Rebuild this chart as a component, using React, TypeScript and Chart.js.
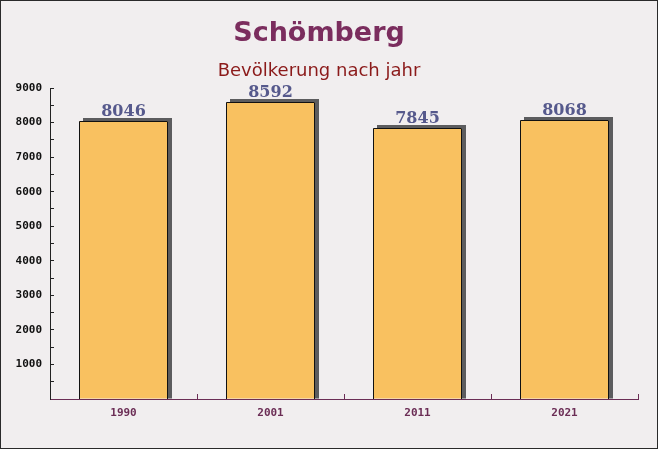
import { useEffect, useRef } from 'react';
import { Chart, registerables } from 'chart.js';

Chart.register(...registerables);

const years: string[] = ['1990', '2001', '2011', '2021'];
const population: number[] = [8046, 8592, 7845, 8068];
const yMin = 0;
const yMax = 9000;
const yStep = 500;
const yLabelStep = 1000;
const titleText = 'Schömberg';
const subtitleText = 'Bevölkerung nach jahr';

const W = 658;
const H = 449;

const backgroundPlugin = {
  id: 'bgPlugin',
  beforeDraw(chart: any) {
    const ctx = chart.ctx;
    ctx.save();
    ctx.fillStyle = '#f1eeef';
    ctx.fillRect(0, 0, chart.width, chart.height);
    ctx.restore();
  },
};

const barShadowPlugin = {
  id: 'barShadow',
  beforeDatasetsDraw(chart: any) {
    const ctx = chart.ctx;
    const meta = chart.getDatasetMeta(0);
    ctx.save();
    ctx.fillStyle = '#5c5c5e';
    meta.data.forEach((el: any) => {
      const p = el.getProps(['x', 'y', 'base', 'width'], true);
      const left = Math.round(p.x - p.width / 2);
      const right = Math.round(p.x + p.width / 2);
      const top = Math.round(p.y);
      ctx.fillRect(left + 4, top - 3, right - left, 3);
      ctx.fillRect(right, top - 3, 4, p.base - top + 3);
    });
    ctx.restore();
  },
  afterDatasetsDraw(chart: any) {
    const ctx = chart.ctx;
    const meta = chart.getDatasetMeta(0);
    ctx.save();
    ctx.strokeStyle = '#111111';
    ctx.lineWidth = 1;
    meta.data.forEach((el: any) => {
      const p = el.getProps(['x', 'y', 'base', 'width'], true);
      const left = Math.round(p.x - p.width / 2) + 0.5;
      const right = Math.round(p.x + p.width / 2) - 0.5;
      const top = Math.round(p.y) + 0.5;
      const bottom = Math.round(p.base);
      ctx.beginPath();
      ctx.moveTo(left, bottom);
      ctx.lineTo(left, top);
      ctx.lineTo(right, top);
      ctx.lineTo(right, bottom);
      ctx.stroke();
    });
    ctx.restore();
  },
};

const valueLabelPlugin = {
  id: 'valueLabels',
  afterDatasetsDraw(chart: any) {
    const ctx = chart.ctx;
    const meta = chart.getDatasetMeta(0);
    const data = chart.data.datasets[0].data as number[];
    ctx.save();
    ctx.font = 'bold 16px "DejaVu Serif"';
    ctx.fillStyle = '#56598c';
    ctx.textAlign = 'center';
    ctx.textBaseline = 'alphabetic';
    meta.data.forEach((el: any, i: number) => {
      const p = el.getProps(['x', 'y'], true);
      ctx.fillText(String(data[i]), p.x, p.y - 5);
    });
    ctx.restore();
  },
};

const framePlugin = {
  id: 'frame',
  afterDraw(chart: any) {
    const ctx = chart.ctx;
    ctx.save();
    ctx.strokeStyle = '#2a2a2a';
    ctx.lineWidth = 1;
    ctx.strokeRect(0.5, 0.5, 657, 448);
    ctx.restore();
  },
};

export default function App() {
  const canvasRef = useRef<HTMLCanvasElement | null>(null);

  useEffect(() => {
    document.body.style.margin = '0';
    const canvas = canvasRef.current;
    if (!canvas) return;
    const chart = new Chart(canvas, {
      type: 'bar',
      data: {
        labels: years,
        datasets: [
          {
            data: population,
            backgroundColor: 'rgba(250, 185, 70, 0.85)',
            borderWidth: 0,
            categoryPercentage: 1,
            barPercentage: 0.6,
          },
        ],
      },
      options: {
        responsive: false,
        animation: false,
        devicePixelRatio: 1,
        layout: { padding: { left: 0, right: 20, top: 0, bottom: 0 } },
        plugins: {
          legend: { display: false },
          tooltip: { enabled: false },
          title: {
            display: true,
            text: titleText,
            color: '#7b2d5e',
            font: { family: 'DejaVu Sans', size: 27, weight: 'bold' },
            padding: { top: 18, bottom: 9.8 },
          },
          subtitle: {
            display: true,
            text: subtitleText,
            color: '#8b1a1a',
            font: { family: 'DejaVu Sans', size: 18, weight: 'normal' },
            padding: { top: 0, bottom: 6.2 },
          },
        },
        scales: {
          x: {
            grid: {
              display: true,
              drawOnChartArea: false,
              drawTicks: true,
              tickLength: -5,
              color: '#6b2d55',
              offset: true,
            },
            border: { display: true, color: '#6b2d55', width: 1 },
            ticks: {
              color: '#6b2d55',
              font: { family: 'DejaVu Sans Mono', size: 11, weight: 'bold' },
              padding: 13,
            },
            afterFit: (s: any) => {
              s.height = 50;
            },
          },
          y: {
            min: yMin,
            max: yMax,
            grid: {
              display: true,
              drawOnChartArea: false,
              drawTicks: true,
              tickLength: -4,
              color: '#222222',
            },
            border: { display: true, color: '#222222', width: 1 },
            ticks: {
              stepSize: yStep,
              autoSkip: false,
              color: '#111111',
              font: { family: 'DejaVu Sans Mono', size: 11, weight: 'bold' },
              padding: 12,
              callback: (v: any) => (Number(v) % yLabelStep === 0 && Number(v) !== 0 ? String(v) : ''),
            },
            afterFit: (s: any) => {
              s.width = 50;
            },
          },
        },
      },
      plugins: [backgroundPlugin, barShadowPlugin, valueLabelPlugin, framePlugin],
    });
    return () => chart.destroy();
  }, []);

  return (
    <div style={{ width: W, height: H }}>
      <canvas ref={canvasRef} width={W} height={H} style={{ display: 'block' }} />
    </div>
  );
}
